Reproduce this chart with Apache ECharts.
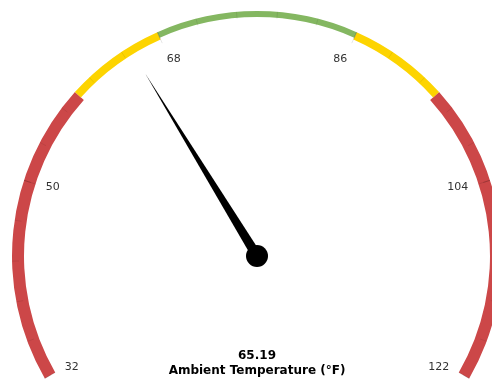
<!DOCTYPE html>
<html>
<head>
<meta charset="utf-8">
<script src="https://cdn.jsdelivr.net/npm/echarts@6/dist/echarts.min.js"></script>
<style>html,body{margin:0;padding:0;background:#fff}#c{width:492px;height:379px}</style>
</head>
<body>
<div id="c"></div>
<script>
const gaugeMin = 32;
const gaugeMax = 122;
const gaugeValue = 65.19;
const gaugeTitle = 'Ambient Temperature (°F)';
const bandFrom = [32, 59, 68, 86, 95];
const bandTo = [59, 68, 86, 95, 122];
const bandColors = ['#cc4748', '#fdd400', '#84b761', '#fdd400', '#cc4748'];
const bandWidths = [12, 8, 6, 8, 12];

const CX = 257, CY = 256, R = 245;
const frac = v => (v - gaugeMin) / (gaugeMax - gaugeMin);

// one gauge series per distinct band width, transparent elsewhere
const widths = [...new Set(bandWidths)];
const bandSeries = widths.map(w => {
  const stops = [];
  bandFrom.forEach((f, i) => {
    stops.push([frac(f), 'rgba(0,0,0,0)']);
    stops.push([frac(bandTo[i]), bandWidths[i] === w ? bandColors[i] : 'rgba(0,0,0,0)']);
  });
  const cleaned = stops.filter(s => s[0] > 0);
  return {
    type: 'gauge', center: [CX, CY], radius: R,
    startAngle: 210, endAngle: -30, min: gaugeMin, max: gaugeMax,
    axisLine: { lineStyle: { width: w, color: cleaned } },
    splitLine: { show: false }, axisTick: { show: false }, axisLabel: { show: false },
    pointer: { show: false }, anchor: { show: false }, title: { show: false }, detail: { show: false },
    data: [], silent: true, z: 1
  };
});

const mainSeries = {
  type: 'gauge', center: [CX, CY], radius: R,
  startAngle: 210, endAngle: -30, min: gaugeMin, max: gaugeMax,
  splitNumber: 5,
  axisLine: { show: false, lineStyle: { width: 0 } },
  splitLine: { show: true, distance: 0, length: 12, lineStyle: { color: 'rgba(0,0,0,0.1)', width: 1 } },
  axisTick: { show: true, splitNumber: 5, distance: 0, length: 7, lineStyle: { color: 'rgba(0,0,0,0.08)', width: 1 } },
  axisLabel: { show: true, distance: 11, color: '#333', fontSize: 11, fontFamily: 'DejaVu Sans' },
  pointer: { show: true, length: 214, width: 5, itemStyle: { color: '#000' } },
  anchor: { show: true, showAbove: true, size: 22, itemStyle: { color: '#000' } },
  title: { show: true, offsetCenter: [0, 115], color: '#000', fontSize: 12, fontWeight: 'bold', fontFamily: 'DejaVu Sans' },
  detail: { show: true, offsetCenter: [0, 100], color: '#000', fontSize: 12, fontWeight: 'bold', fontFamily: 'DejaVu Sans',
            formatter: v => v.toFixed(2) },
  data: [{ value: gaugeValue, name: gaugeTitle }],
  z: 5
};

const chart = echarts.init(document.getElementById('c'), null, { renderer: 'canvas' });
chart.setOption({ animation: false, series: [...bandSeries, mainSeries] });
</script>
</body>
</html>
